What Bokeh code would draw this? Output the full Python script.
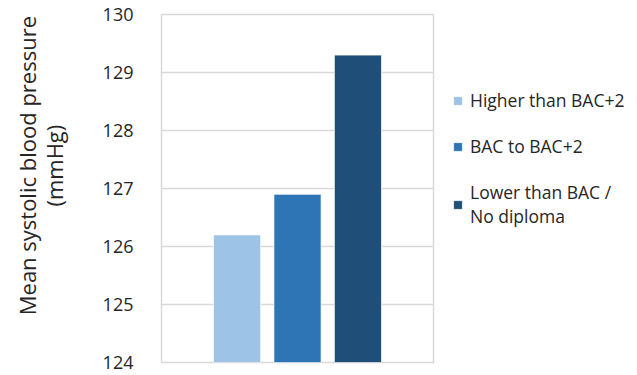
from bokeh.plotting import figure
from bokeh.models import Legend, LegendItem, FixedTicker, Range1d
from bokeh.embed import file_html
from bokeh.resources import INLINE

# Education levels and their mean systolic blood pressure (mmHg)
groups = ["Higher than BAC+2", "BAC to BAC+2", "Lower than BAC /\nNo diploma"]
sbp = [126.2, 126.9, 129.3]
colors = ["#9DC3E6", "#2E75B6", "#1F4E79"]
y_ticks = [124, 125, 126, 127, 128, 129, 130]
y_title = ["Mean systolic blood pressure", "(mmHg)"]

FONT = "Open Sans"
TXT = "#262626"
GRID = "#D9D9D9"

positions = [-1, 0, 1]

p = figure(frame_width=272, frame_height=348, output_backend="svg", toolbar_location=None,
           x_range=Range1d(-2.25, 2.25), y_range=Range1d(124, 130),
           min_border_left=161, min_border_right=0, min_border_top=14,
           min_border_bottom=13)

items = []
for i in range(len(groups)):
    r = p.vbar(x=[positions[i]], top=[sbp[i]], bottom=124, width=0.78,
               fill_color=colors[i], line_color="white", line_alpha=0.7, line_width=1)
    items.append(LegendItem(label=groups[i], renderers=[r]))

p.xaxis.visible = False
p.xgrid.visible = False

p.yaxis.ticker = FixedTicker(ticks=y_ticks)
p.yaxis.axis_line_color = None
p.yaxis.major_tick_line_color = None
p.yaxis.minor_tick_line_color = None
p.yaxis.major_label_text_font = FONT
p.yaxis.major_label_text_font_size = "18px"
p.yaxis.major_label_text_color = TXT
p.yaxis.major_label_standoff = 22

# leading no-break spaces lift the centred two-line title towards the top
pad = "\u00a0" * 8
p.yaxis.axis_label = "\n".join(pad + line for line in y_title)
p.yaxis.axis_label_text_font = FONT
p.yaxis.axis_label_text_font_size = "22px"
p.yaxis.axis_label_text_font_style = "normal"
p.yaxis.axis_label_text_color = TXT
p.yaxis.axis_label_text_line_height = 0.9
p.yaxis.axis_label_standoff = 31

p.ygrid.grid_line_color = GRID
p.ygrid.grid_line_width = 1.5
p.outline_line_color = GRID
p.outline_line_width = 1.5

legend = Legend(items=items, location=(19, 134), border_line_color=None,
                background_fill_alpha=0, label_text_font=FONT,
                label_text_font_size="17.5px", label_text_color=TXT,
                label_text_line_height=1.7,
                glyph_width=11, glyph_height=11, spacing=22, padding=0,
                margin=0, label_standoff=7)
p.add_layout(legend, "right")

open("out.html", "w").write(file_html(p, INLINE))
